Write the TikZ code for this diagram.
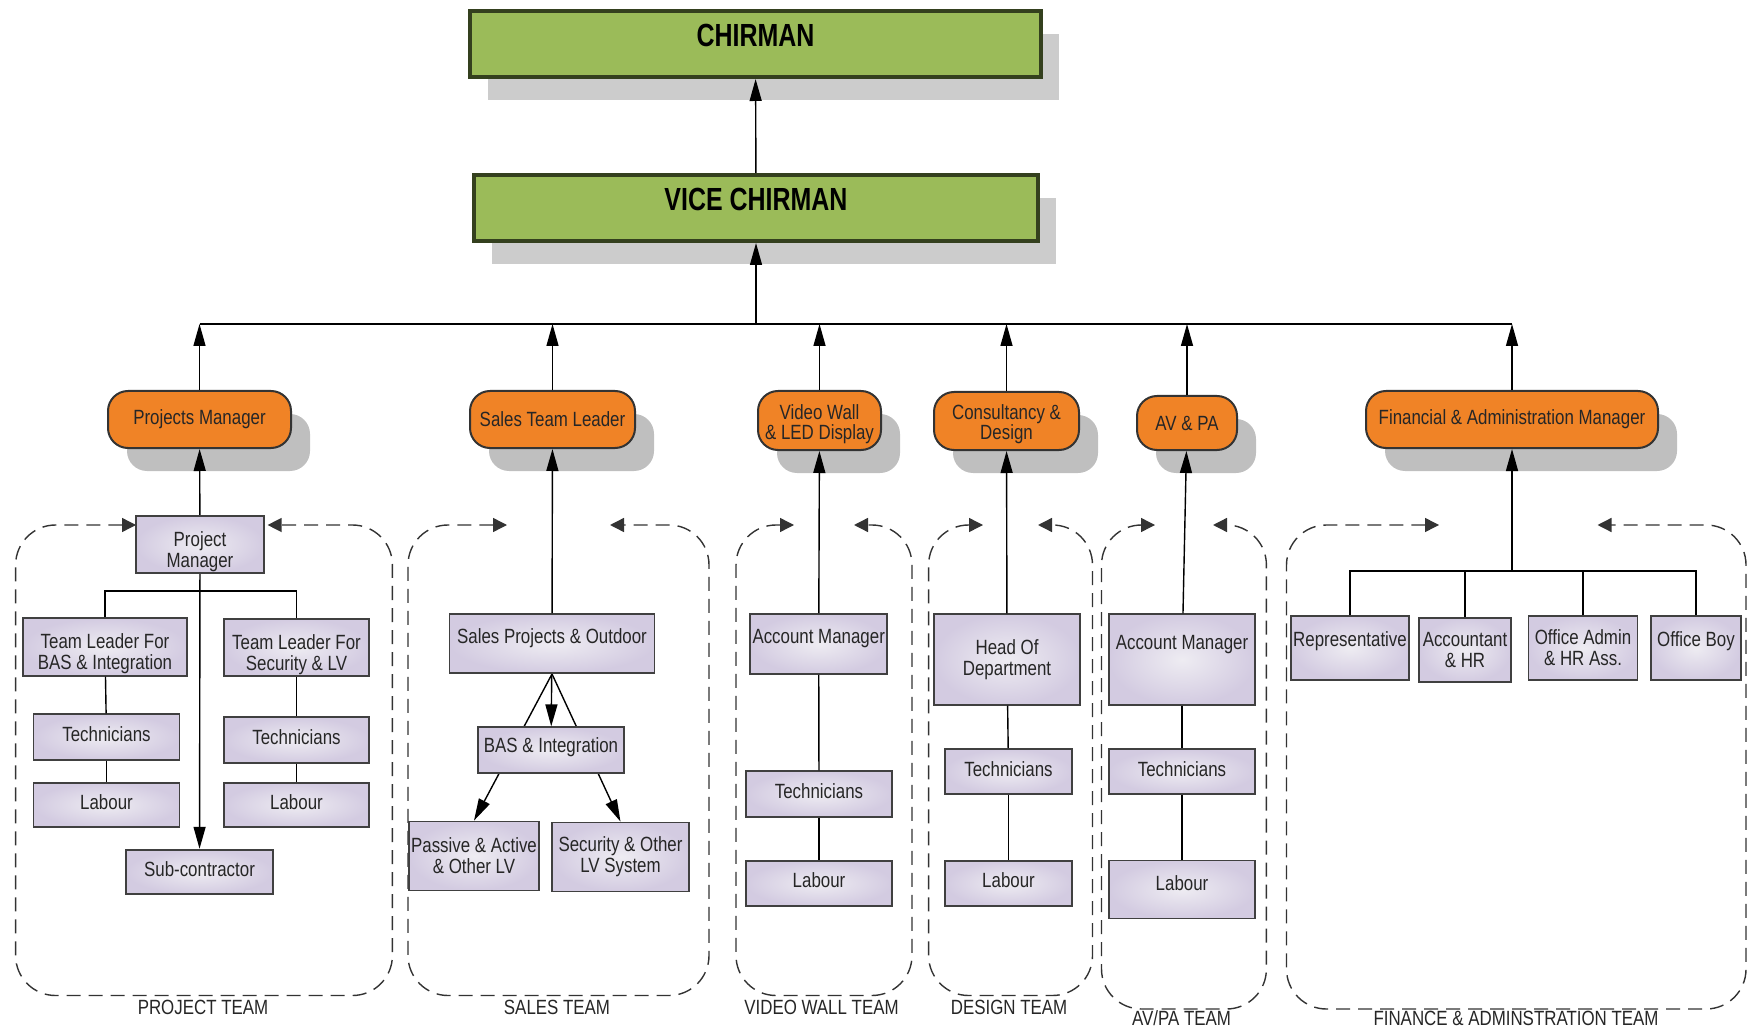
\documentclass[tikz,border=0pt]{standalone}
\usepackage{fontspec}
\setmainfont{Liberation Sans}[FakeStretch=0.82]
\newfontfamily\chairfont{Liberation Sans}[FakeStretch=0.78]
\usetikzlibrary{arrows.meta,shadows,backgrounds}

\definecolor{chairgreen}{RGB}{155,187,89}
\definecolor{chairline}{RGB}{52,64,30}
\definecolor{headorange}{RGB}{240,131,38}
\definecolor{staffpurple}{RGB}{211,203,225}
\definecolor{staffcore}{RGB}{238,236,242}

\tikzset
{
	chairbox/.style  = {rectangle, draw=chairline, line width=2pt, fill=chairgreen, text depth=8.4pt, font=\chairfont\bfseries\fontsize{16}{16}\selectfont, drop shadow={shadow xshift=9pt, shadow yshift=-11.5pt, fill=black!20, opacity=1}},
	headnode/.style  = {rectangle, rounded corners=10pt, draw=black!80, line width=1pt, fill=headorange, align=center, inner sep=2pt, text=black!85, font=\fontsize{10.3}{10}\selectfont, drop shadow={shadow xshift=9.5pt, shadow yshift=-11.5pt, fill=black!25, opacity=1}},
	staffbox/.style  = {rectangle, draw=black!75, line width=0.9pt, inner color=staffcore, outer color=staffpurple, align=center, inner sep=1pt, text=black!85, font=\fontsize{10.3}{10.5}\selectfont},
	uptext/.style    = {text depth=#1},
	downtext/.style  = {text height=#1},
	teamframe/.style = {draw=black!80, line width=0.7pt, dash pattern=on 7pt off 4pt, rounded corners=20pt, arrows={Triangle[length=7pt,width=7pt]-Triangle[length=7pt,width=7pt]}},
	teamlabel/.style = {inner sep=1pt, text=black!85, font=\fontsize{10.3}{10.3}\selectfont},
	conn/.style      = {draw=black, line width=0.7pt},
	arrowline/.style = {conn, arrows={-Triangle[length=11pt,width=6pt]}}
}

\begin{document}
\begin{tikzpicture}[x=0.5pt, y=-0.5pt]
\useasboundingbox (0,0) rectangle (1748,1031);

% team frames
\draw[teamframe] (136,525) -- (15.6,525) -- (15.6,995.5) -- (392.4,995.5) -- (392.4,525) -- (267.6,525);
\draw[teamframe] (507,525) -- (408,525) -- (408,995.5) -- (709,995.5) -- (709,525) -- (610,525);
\draw[teamframe] (794,525) -- (736,525) -- (736,995.5) -- (912,995.5) -- (912,525) -- (854,525);
\draw[teamframe] (983,525) -- (928.6,525) -- (928.6,995.5) -- (1092.5,995.5) -- (1092.5,525) -- (1038,525);
\draw[teamframe] (1155,525) -- (1101.5,525) -- (1101.5,1009) -- (1266.4,1009) -- (1266.4,525) -- (1213,525);
\draw[teamframe] (1439,525) -- (1286.5,525) -- (1286.5,1009) -- (1746,1009) -- (1746,525) -- (1597.5,525);

\node[teamlabel] (projteam) at (203,1007) {PROJECT TEAM};
\node[teamlabel] (salesteam) at (557,1007) {SALES TEAM};
\node[teamlabel] (videoteam) at (821.5,1007) {VIDEO WALL TEAM};
\node[teamlabel] (designteam) at (1009,1007) {DESIGN TEAM};
\node[teamlabel] (avpateam) at (1181.5,1018) {AV/PA TEAM};
\node[teamlabel] (finteam) at (1516,1018) {FINANCE \& ADMINSTRATION TEAM};

% board
\node[chairbox, minimum width=285.5pt, minimum height=33pt] (chair) at (755.5,44) {CHIRMAN};
\node[chairbox, minimum width=282pt, minimum height=33pt] (vice) at (756,208) {VICE CHIRMAN};

% heads
\node[headnode, minimum width=91.5pt, minimum height=28.5pt] (pm) at (199.5,419.5) {Projects Manager};
\node[headnode, minimum width=82.5pt, minimum height=28.5pt] (stl) at (552.5,419.5) {Sales Team Leader};
\node[headnode, minimum width=61.5pt, minimum height=29.5pt, downtext=21pt] (vwl) at (819.5,420.5) {Video Wall\\\& LED Display};
\node[headnode, minimum width=72.5pt, minimum height=29pt, downtext=21pt] (cd) at (1006.5,421) {Consultancy \&\\Design};
\node[headnode, minimum width=50pt, minimum height=27pt] (avpa) at (1187,423) {AV \& PA};
\node[headnode, minimum width=146pt, minimum height=28.5pt] (fam) at (1512,419.5) {Financial \& Administration Manager};

% project team
\node[staffbox, minimum width=64pt, minimum height=28.5pt, downtext=24.7pt] (pmgr) at (200,544.5) {Project\\Manager};
\node[staffbox, minimum width=82pt, minimum height=26pt, downtext=24.7pt] (tlb) at (105,647) {Team Leader For\\BAS \& Integration};
\node[staffbox, minimum width=72.5pt, minimum height=25.5pt, downtext=24.7pt] (tls) at (296.5,647.5) {Team Leader For\\Security \& LV};
\node[staffbox, minimum width=73pt, minimum height=22.7pt, uptext=3pt] (techl) at (106.5,737) {Technicians};
\node[staffbox, minimum width=72.5pt, minimum height=22.7pt, uptext=3pt] (techr) at (296.5,740) {Technicians};
\node[staffbox, minimum width=73pt, minimum height=22.2pt, uptext=3pt] (labl) at (106.5,805) {Labour};
\node[staffbox, minimum width=72.5pt, minimum height=22.2pt, uptext=3pt] (labr) at (296.5,805) {Labour};
\node[staffbox, minimum width=73.5pt, minimum height=22.3pt, uptext=3pt] (subc) at (199.5,872) {Sub-contractor};

% sales team
\node[staffbox, minimum width=102.5pt, minimum height=29.5pt, uptext=8pt] (spo) at (552,643.6) {Sales Projects \& Outdoor};
\node[staffbox, minimum width=73pt, minimum height=22.7pt, uptext=5pt] (basi) at (551,750) {BAS \& Integration};
\node[staffbox, minimum width=65pt, minimum height=34.5pt] (pal) at (474,856) {Passive \& Active\\\& Other LV};
\node[staffbox, minimum width=68.5pt, minimum height=34.5pt] (sec) at (620.5,857) {Security \& Other\\LV System};

% video wall team
\node[staffbox, minimum width=68.5pt, minimum height=30pt, uptext=8pt] (vam) at (818.7,644) {Account Manager};
\node[staffbox, minimum width=73pt, minimum height=22.7pt, uptext=3pt] (vtech) at (819,794) {Technicians};
\node[staffbox, minimum width=73pt, minimum height=22.7pt, uptext=3pt] (vlab) at (819,883.5) {Labour};

% design team
\node[staffbox, minimum width=73pt, minimum height=45.3pt] (hod) at (1007,659.5) {Head Of\\Department};
\node[staffbox, minimum width=63.5pt, minimum height=22.5pt, uptext=2pt] (dtech) at (1008.5,771.5) {Technicians};
\node[staffbox, minimum width=63.5pt, minimum height=22.7pt, uptext=3pt] (dlab) at (1008.5,883.5) {Labour};

% av/pa team
\node[staffbox, minimum width=73pt, minimum height=45.3pt, uptext=17pt] (aam) at (1182,659.5) {Account Manager};
\node[staffbox, minimum width=73pt, minimum height=22.5pt, uptext=2pt] (atech) at (1182,771.5) {Technicians};
\node[staffbox, minimum width=73pt, minimum height=29pt, uptext=6pt] (alab) at (1182,889.5) {Labour};

% finance team
\node[staffbox, minimum width=59pt, minimum height=31.7pt, uptext=9pt] (rep) at (1350,648) {Representative};
\node[staffbox, minimum width=45.7pt, minimum height=32.2pt] (acc) at (1465,650) {Accountant\\\& HR};
\node[staffbox, minimum width=54.5pt, minimum height=31.7pt] (adm) at (1583,648) {Office Admin\\\& HR Ass.};
\node[staffbox, minimum width=45pt, minimum height=31.7pt, uptext=9pt] (boy) at (1696,648) {Office Boy};

% links
\draw[arrowline] (vice) -- (chair);
\coordinate (bus) at (756,324);
\draw[arrowline] (bus) -- (vice);
\draw[conn] (pm |- bus) -- (fam |- bus);
\draw[arrowline] (pm) -- (pm |- bus);
\draw[arrowline] (stl) -- (stl |- bus);
\draw[arrowline] (vwl) -- (vwl |- bus);
\draw[arrowline] (cd) -- (cd |- bus);
\draw[arrowline] (avpa) -- (avpa |- bus);
\draw[arrowline] (fam) -- (fam |- bus);

\draw[arrowline] (pmgr) -- (pm);
\draw[arrowline] (pmgr) -- (subc);
\coordinate (pmsplit) at (200,591);
\draw[conn] (tlb) |- (pmsplit) -| (tls);
\draw[conn] (tlb) -- (techl);
\draw[conn] (techl) -- (labl);
\draw[conn] (tls) -- (techr);
\draw[conn] (techr) -- (labr);

\draw[arrowline] (spo) -- (stl);
\draw[arrowline] (spo) -- (basi);
\begin{pgfonlayer}{background}
\draw[arrowline] (spo.south) -- (pal.north);
\draw[arrowline] (spo.south) -- (sec.north);
\end{pgfonlayer}

\draw[arrowline] (vam) -- (vwl);
\draw[conn] (vam) -- (vtech);
\draw[conn] (vtech) -- (vlab);

\draw[arrowline] (hod) -- (cd);
\draw[conn] (hod) -- (dtech);
\draw[conn] (dtech) -- (dlab);

\draw[arrowline] (aam) -- (avpa);
\draw[conn] (aam) -- (atech);
\draw[conn] (atech) -- (alab);

\coordinate (finsplit) at (1512,571);
\draw[arrowline] (finsplit) -- (fam);
\draw[conn] (rep) |- (finsplit) -| (boy);
\draw[conn] (acc) -- (acc |- finsplit);
\draw[conn] (adm) -- (adm |- finsplit);
\end{tikzpicture}
\end{document}
